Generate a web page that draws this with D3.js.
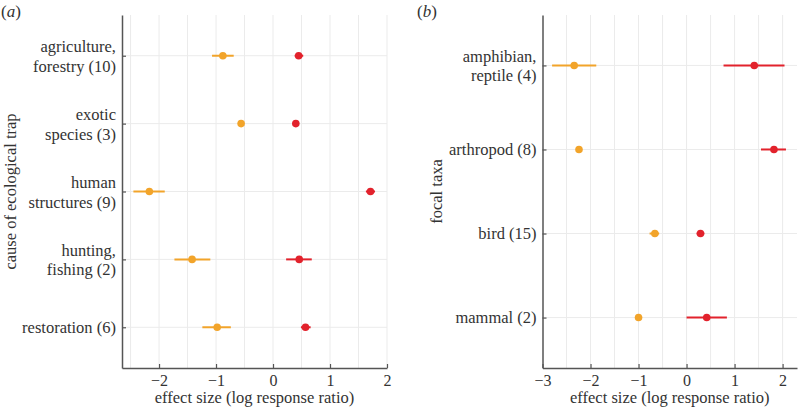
<!DOCTYPE html>
<html><head><meta charset="utf-8">
<script src="https://cdn.jsdelivr.net/npm/d3@7"></script>
</head>
<body style="margin:0;background:#fff"><svg id="c" width="799" height="407"></svg>
<script>
// Panel (a): cause of ecological trap
const causeCats = [["agriculture,","forestry (10)"],["exotic","species (3)"],["human","structures (9)"],["hunting,","fishing (2)"],["restoration (6)"]];
const causeOrange = [-0.88,-0.56,-2.17,-1.42,-0.98];
const causeOrangeLo = [-1.07,-0.58,-2.45,-1.73,-1.24];
const causeOrangeHi = [-0.69,-0.54,-1.90,-1.10,-0.74];
const causeRed = [0.45,0.40,1.71,0.46,0.57];
const causeRedLo = [0.38,0.38,1.63,0.23,0.49];
const causeRedHi = [0.53,0.42,1.79,0.68,0.66];
const causeTicks = [-2,-1,0,1,2];

// Panel (b): focal taxa
const taxaCats = [["amphibian,","reptile (4)"],["arthropod (8)"],["bird (15)"],["mammal (2)"]];
const taxaOrange = [-2.34,-2.24,-0.66,-1.00];
const taxaOrangeLo = [-2.80,-2.26,-0.77,-1.02];
const taxaOrangeHi = [-1.88,-2.22,-0.57,-0.98];
const taxaRed = [1.41,1.82,0.29,0.42];
const taxaRedLo = [0.77,1.55,0.21,0.00];
const taxaRedHi = [2.04,2.07,0.37,0.84];
const taxaTicks = [-3,-2,-1,0,1,2];

const ORANGE = "#F2A42A", RED = "#E2222C";
const FONT = '"Liberation Serif"';
const svg = d3.select("#c");

function txt(sel){ return sel.style("font-family", FONT).attr("fill","#333"); }

function panel(o){
  const g = svg.append("g");
  const x = d3.scaleLinear().domain(o.xdom).range([o.left,o.right]);
  const n = o.cats.length;
  const y = d3.scaleLinear().domain([0.4, n+0.6]).range([o.top,o.bottom]);
  // vertical gridlines every 0.5
  const grid = d3.range(Math.ceil(o.xdom[0]*2)/2, o.xdom[1]+1e-9, 0.5).filter(v=>x(v)>o.left+1);
  g.selectAll(".vg").data(grid).join("line")
    .attr("x1",d=>x(d)).attr("x2",d=>x(d)).attr("y1",o.top).attr("y2",o.bottom)
    .attr("stroke","#ebebeb").attr("stroke-width",1);
  // horizontal gridlines at rows
  g.selectAll(".hg").data(d3.range(n)).join("line")
    .attr("x1",o.left).attr("x2",o.right).attr("y1",i=>y(i+1)).attr("y2",i=>y(i+1))
    .attr("stroke","#ebebeb").attr("stroke-width",1);
  // x axis
  const xa = d3.axisBottom(x).tickValues(o.ticks).tickSizeInner(-4).tickSizeOuter(0).tickPadding(7)
    .tickFormat(d=> d<0 ? "\u2212"+Math.abs(d) : d);
  const gx = g.append("g").attr("transform",`translate(0,${o.bottom})`).call(xa);
  gx.select(".domain").attr("stroke","#555").attr("stroke-width",1.5);
  gx.selectAll(".tick line").attr("stroke","#555").attr("stroke-width",1.2);
  txt(gx.selectAll("text")).attr("font-size",16);
  // y axis
  const ya = d3.axisLeft(y).tickValues(d3.range(1,n+1)).tickSizeInner(-4).tickSizeOuter(0).tickFormat("");
  const gy = g.append("g").attr("transform",`translate(${o.left},0)`).call(ya);
  gy.select(".domain").attr("stroke","#555").attr("stroke-width",1.5);
  gy.selectAll(".tick line").attr("stroke","#555").attr("stroke-width",1.2);
  // category labels
  o.cats.forEach((lines,i)=>{
    const cy = y(i+1);
    lines.forEach((line,j)=>{
      const yy = lines.length===1 ? cy+5.5 : (j===0 ? cy-3.5 : cy+16);
      txt(g.append("text")).attr("x",o.left-6).attr("y",yy).attr("text-anchor","end")
        .attr("font-size",16.5).text(line);
    });
  });
  // series
  const series = [
    {v:o.orange, lo:o.orangeLo, hi:o.orangeHi, c:ORANGE},
    {v:o.red, lo:o.redLo, hi:o.redHi, c:RED}
  ];
  series.forEach(s=>{
    g.append("g").selectAll("line").data(d3.range(n)).join("line")
      .attr("x1",i=>x(s.lo[i])).attr("x2",i=>x(s.hi[i]))
      .attr("y1",i=>y(i+1)).attr("y2",i=>y(i+1))
      .attr("stroke",s.c).attr("stroke-width",2);
    g.append("g").selectAll("circle").data(d3.range(n)).join("circle")
      .attr("cx",i=>x(s.v[i])).attr("cy",i=>y(i+1)).attr("r",3.8).attr("fill",s.c);
  });
  // axis titles
  txt(g.append("text")).attr("x",(o.left+o.right)/2).attr("y",403).attr("text-anchor","middle")
    .attr("font-size",16.5).text("effect size (log response ratio)");
  txt(g.append("text")).attr("transform",`translate(${o.ytx},${(o.top+o.bottom)/2}) rotate(-90)`)
    .attr("text-anchor","middle").attr("font-size",16.5).text(o.ytitle);
  const pl = txt(g.append("text")).attr("x",o.plx).attr("y",17).attr("font-size",17);
  pl.append("tspan").text("(");
  pl.append("tspan").attr("font-style","italic").text(o.plabel);
  pl.append("tspan").text(")");
}

panel({cats:causeCats, orange:causeOrange, orangeLo:causeOrangeLo, orangeHi:causeOrangeHi,
  red:causeRed, redLo:causeRedLo, redHi:causeRedHi, ticks:causeTicks,
  xdom:[-2.65,2.0], left:122, right:387, top:15, bottom:368,
  ytitle:"cause of ecological trap", ytx:16, plabel:"a", plx:1});
panel({cats:taxaCats, orange:taxaOrange, orangeLo:taxaOrangeLo, orangeHi:taxaOrangeHi,
  red:taxaRed, redLo:taxaRedLo, redHi:taxaRedHi, ticks:taxaTicks,
  xdom:[-3.0,2.3], left:542.5, right:797, top:15, bottom:368,
  ytitle:"focal taxa", ytx:442, plabel:"b", plx:417});
</script></body></html>
